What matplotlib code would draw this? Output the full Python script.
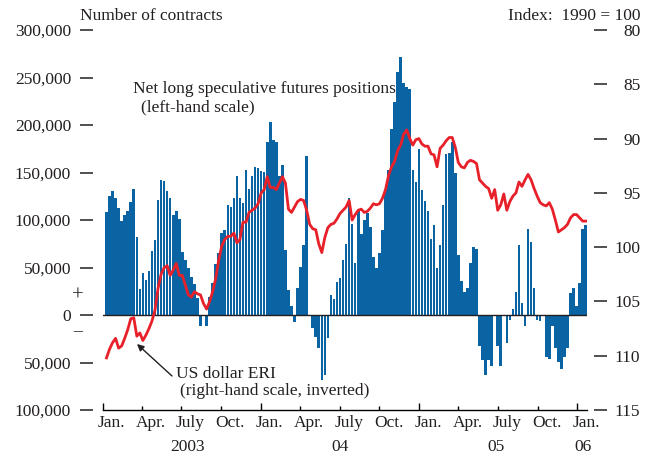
import matplotlib
matplotlib.use("Agg")
import matplotlib.pyplot as plt
import matplotlib.dates as mdates
import matplotlib.transforms as mtrans
import numpy as np
import pandas as pd

plt.rcParams.update({
    "font.family": "serif", "font.serif": ["Liberation Serif", "DejaVu Serif"],
    "font.size": 12.5, "text.color": "#231f20",
})

C_BAR, C_LINE = "#0a64a4", "#e8202a"

# weekly net long speculative positions, thousands of contracts
positions = [
    108, 125, 131, 123, 113, 99, 105, 110, 119, 133,
    82, 27, 44, 37, 46, 67, 79, 121, 142, 141,
    131, 123, 105, 110, 101, 66, 58, 49, 40, 33,
    18, -12, 0, -12, 19, 34, 54, 65, 86, 90,
    116, 114, 123, 146, 123, 118, 153, 133, 146, 156,
    155, 152, 151, 182, 203, 184, 182, 146, 158, 68,
    26, 9, -7, 28, 51, 74, 167, 0, -14, -23,
    -35, -68, -63, -24, 21, 17, 35, 39, 58, 75,
    123, 96, 55, 110, 85, 100, 107, 93, 61, 49,
    65, 89, 133, 153, 196, 224, 256, 272, 244, 240,
    238, 153, 140, 175, 132, 120, 110, 80, 95, 49,
    74, 116, 169, 171, 182, 150, 63, 36, 24, 28,
    55, 72, 70, -33, -47, -63, -47, -54, 0, -33,
    -54, 0, -29, -5, 6, 24, 74, 13, -12, 91,
    77, 28, -5, -6, 0, -44, -46, -12, -35, -49,
    -57, -44, -35, 23, 28, 9, 34, 91, 95,
]

# US dollar ERI, index 1990 = 100 (plotted inverted)
eri = [
    110.2, 109.4, 108.8, 108.4, 109.3, 109.1, 108.4, 107.6, 106.6, 106.5,
    108.2, 107.9, 108.6, 108.1, 107.5, 106.8, 105.8, 103.8, 102.5, 101.9,
    101.7, 102.6, 102.1, 101.5, 102.6, 102.6, 103.5, 104.4, 104.6, 104.1,
    104.3, 104.4, 105.2, 105.7, 105.0, 104.1, 102.9, 101.2, 99.9, 99.3,
    99.0, 99.0, 98.7, 99.6, 99.3, 97.7, 97.7, 96.8, 96.6, 96.4,
    96.0, 95.0, 94.7, 93.5, 94.5, 94.5, 94.7, 94.1, 93.5, 94.1,
    96.5, 96.8, 96.3, 95.8, 95.6, 95.7, 96.6, 97.9, 98.3, 98.4,
    99.7, 100.5, 99.1, 98.2, 97.9, 97.8, 97.4, 96.9, 96.6, 96.3,
    95.7, 97.5, 97.0, 96.6, 96.5, 96.8, 96.7, 96.4, 96.0, 96.1,
    96.0, 95.5, 94.7, 93.4, 92.6, 92.1, 91.1, 90.6, 89.6, 89.2,
    90.0, 90.6, 90.1, 90.0, 90.5, 90.7, 90.7, 91.4, 91.5, 92.6,
    90.9, 90.6, 90.2, 89.9, 89.9, 90.8, 92.2, 92.6, 92.7, 92.2,
    92.0, 92.1, 92.3, 93.8, 94.1, 94.4, 94.6, 95.5, 94.7, 96.6,
    96.1, 95.1, 96.6, 95.8, 95.3, 95.0, 94.0, 94.4, 93.8, 93.3,
    93.8, 94.6, 95.3, 95.9, 96.1, 96.2, 95.9, 96.5, 97.5, 98.6,
    98.4, 98.2, 97.9, 97.3, 97.0, 97.0, 97.3, 97.6, 97.6,
]

weeks = pd.date_range("2003-01-10", periods=len(positions), freq="7D")
weeks_eri = pd.date_range("2003-01-10", periods=len(eri), freq="7D")

fig = plt.figure(figsize=(6.53, 4.57), dpi=100)
ax = fig.add_axes([0.1571, 0.1028, 0.7418, 0.8315])
ax2 = ax.twinx()

ax.bar(weeks, np.array(positions) * 1000, width=6.0, color=C_BAR, lw=0, zorder=2)
ax.axhline(0, color="#231f20", lw=1.0, zorder=3)
ax2.plot(weeks_eri, eri, color=C_LINE, lw=2.0, zorder=4, solid_joinstyle="round")

ax.set_xlim(pd.Timestamp("2003-01-01"), pd.Timestamp("2006-01-23"))
ax.set_ylim(-100000, 300000)
ax2.set_ylim(115, 80)

# left scale
lt = np.arange(-100000, 300001, 50000)
ax.set_yticks(lt)
ax.set_yticklabels([f"{abs(v):,}" for v in lt])
ax.spines["left"].set_position(("outward", 7.2))
for s in ("left", "right", "top"):
    ax.spines[s].set_visible(False)
ax.tick_params(axis="y", length=9.4, width=1.1, pad=6, colors="#231f20")

# right scale, labels right-aligned
ax2.set_yticks(np.arange(80, 116, 5))
for s in ("left", "right", "top", "bottom"):
    ax2.spines[s].set_visible(False)
ax2.spines["right"].set_position(("outward", 5))
ax2.tick_params(axis="y", length=9.4, width=1.1, pad=24, colors="#231f20")
for lab in ax2.get_yticklabels():
    lab.set_horizontalalignment("right")

# time axis
ax.spines["bottom"].set_linewidth(1.0)
ax.xaxis.set_major_locator(mdates.MonthLocator(bymonth=[1]))
ax.xaxis.set_minor_locator(mdates.MonthLocator(bymonth=[4, 7, 10]))
ax.xaxis.set_major_formatter(plt.NullFormatter())
ax.tick_params(axis="x", which="major", direction="in", length=5, width=1.0)
ax.tick_params(axis="x", which="minor", direction="in", length=3, width=1.0)

mlab = {1: "Jan.", 4: "Apr.", 7: "July", 10: "Oct."}
trans = mtrans.blended_transform_factory(ax.transData, ax.transAxes)
for d in pd.date_range("2003-01-01", "2006-01-01", freq="QS"):
    ax.text(d + pd.Timedelta(days=21), -0.034, mlab[d.month], transform=trans,
            ha="center", va="center")
for lab, d in [("2003", "2003-07-16"), ("04", "2004-07-01"), ("05", "2005-06-28"), ("06", "2006-01-13")]:
    ax.text(pd.Timestamp(d), -0.097, lab, transform=trans, ha="center", va="center")

fig.text(80 / 653, 1 - 16 / 457, "Number of contracts", ha="left", va="center")
fig.text(641 / 653, 1 - 16 / 457, "Index:  1990 = 100", ha="right", va="center")
fig.text(133 / 653, 1 - 89 / 457, "Net long speculative futures positions", ha="left", va="center")
fig.text(141 / 653, 1 - 107 / 457, "(left-hand scale)", ha="left", va="center")
fig.text(176 / 653, 1 - 374 / 457, "US dollar ERI", ha="left", va="center")
fig.text(180 / 653, 1 - 391 / 457, "(right-hand scale, inverted)", ha="left", va="center")
fig.text(78 / 653, 1 - 296 / 457, "+", ha="center", va="center", fontsize=15)
fig.text(78 / 653, 1 - 332 / 457, "\u2013", ha="center", va="center", fontsize=13)

ax.annotate("", xy=(137 / 653, 1 - 344 / 457), xytext=(172 / 653, 1 - 376 / 457),
            xycoords="figure fraction", textcoords="figure fraction",
            arrowprops=dict(arrowstyle="-|>", color="#231f20", lw=1.0,
                            mutation_scale=10, shrinkA=0, shrinkB=0))

fig.savefig("out.png", dpi=100)
